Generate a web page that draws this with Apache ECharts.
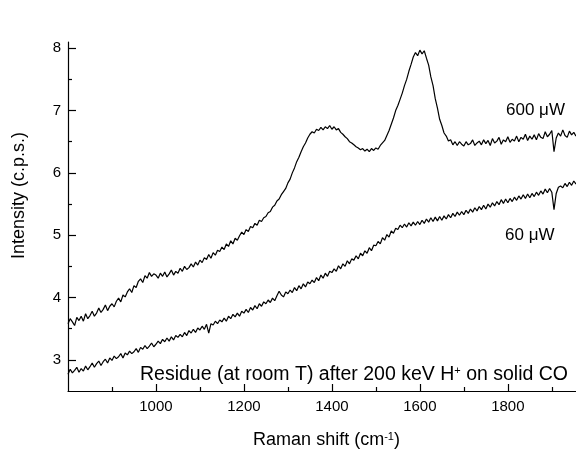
<!DOCTYPE html>
<html>
<head>
<meta charset="utf-8">
<script src="https://cdn.jsdelivr.net/npm/echarts@6/dist/echarts.min.js"></script>
<style>html,body{margin:0;padding:0;background:#fff}#c{width:576px;height:454px}</style>
</head>
<body>
<div id="c"></div>
<script>
var xStart = 800, xStep = 5;
var xMajorTicks = [1000, 1200, 1400, 1600, 1800];
var xMinorTicks = [900, 1100, 1300, 1500, 1700, 1900];
var yMajorTicks = [3, 4, 5, 6, 7, 8];
var yMinorTicks = [3.5, 4.5, 5.5, 6.5, 7.5];
var seriesNames = ['600 μW', '60 μW'];
var i600 = [
3.58,3.66,3.61,3.55,3.68,3.63,3.70,3.62,3.74,3.66,
3.71,3.78,3.70,3.75,3.83,3.76,3.81,3.88,3.79,3.86,
3.90,3.85,3.94,3.99,3.93,4.04,4.01,4.09,4.14,4.08,
4.19,4.16,4.26,4.30,4.24,4.35,4.31,4.40,4.34,4.38,
4.36,4.31,4.39,4.34,4.41,4.33,4.38,4.44,4.36,4.42,
4.39,4.47,4.42,4.50,4.45,4.48,4.54,4.49,4.57,4.52,
4.60,4.56,4.64,4.61,4.69,4.63,4.72,4.68,4.76,4.74,
4.81,4.77,4.86,4.82,4.91,4.86,4.95,4.92,4.99,5.05,
5.01,5.09,5.06,5.14,5.12,5.19,5.16,5.24,5.22,5.28,
5.30,5.36,5.38,5.45,5.48,5.55,5.58,5.65,5.70,5.75,
5.84,5.90,6.00,6.08,6.18,6.25,6.34,6.42,6.48,6.56,
6.62,6.66,6.64,6.70,6.68,6.73,6.69,6.74,6.71,6.76,
6.70,6.74,6.69,6.71,6.65,6.62,6.58,6.55,6.50,6.48,
6.45,6.42,6.40,6.37,6.39,6.35,6.38,6.34,6.39,6.36,
6.40,6.38,6.44,6.48,6.52,6.60,6.68,6.78,6.88,7.00,
7.08,7.18,7.28,7.40,7.50,7.63,7.74,7.86,7.93,7.88,
7.97,7.91,7.96,7.84,7.73,7.54,7.40,7.19,7.04,6.86,
6.76,6.64,6.59,6.51,6.53,6.45,6.50,6.44,6.50,6.46,
6.43,6.50,6.45,6.47,6.53,6.44,6.48,6.51,6.45,6.53,
6.47,6.52,6.44,6.55,6.48,6.51,6.57,6.46,6.53,6.50,
6.58,6.49,6.54,6.51,6.59,6.50,6.57,6.54,6.62,6.52,
6.59,6.54,6.61,6.53,6.63,6.57,6.55,6.66,6.58,6.62,
6.68,6.34,6.56,6.64,6.59,6.69,6.60,6.57,6.67,6.61,
6.65,6.59
];
var i60 = [
2.77,2.85,2.79,2.83,2.88,2.80,2.86,2.82,2.90,2.84,
2.89,2.95,2.88,2.94,2.98,2.91,2.97,3.01,2.95,3.03,
2.99,3.06,3.02,3.05,3.10,3.03,3.11,3.08,3.14,3.10,
3.13,3.18,3.12,3.20,3.17,3.23,3.18,3.22,3.27,3.21,
3.25,3.30,3.26,3.33,3.29,3.35,3.30,3.37,3.32,3.39,
3.36,3.41,3.37,3.44,3.39,3.47,3.43,3.49,3.44,3.51,
3.48,3.54,3.49,3.57,3.43,3.58,3.56,3.62,3.58,3.64,
3.61,3.67,3.62,3.70,3.66,3.73,3.69,3.75,3.70,3.78,
3.75,3.81,3.76,3.84,3.80,3.87,3.82,3.90,3.86,3.93,
3.90,3.96,3.92,3.99,3.95,4.03,4.10,4.04,4.01,4.09,
4.06,4.12,4.08,4.16,4.11,4.19,4.14,4.22,4.17,4.25,
4.22,4.28,4.24,4.32,4.27,4.36,4.31,4.39,4.34,4.42,
4.40,4.46,4.42,4.51,4.46,4.54,4.50,4.59,4.54,4.62,
4.60,4.67,4.62,4.71,4.67,4.75,4.71,4.80,4.75,4.84,
4.83,4.90,4.86,4.96,4.92,5.01,4.97,5.07,5.03,5.11,
5.09,5.16,5.12,5.18,5.13,5.20,5.15,5.21,5.16,5.22,
5.17,5.24,5.19,5.26,5.21,5.28,5.22,5.29,5.23,5.30,
5.24,5.31,5.26,5.33,5.28,5.35,5.30,5.37,5.32,5.38,
5.33,5.40,5.35,5.42,5.37,5.44,5.39,5.46,5.41,5.48,
5.42,5.50,5.45,5.52,5.47,5.54,5.49,5.57,5.51,5.58,
5.52,5.59,5.54,5.61,5.56,5.63,5.58,5.65,5.59,5.66,
5.60,5.67,5.62,5.69,5.64,5.71,5.66,5.74,5.68,5.75,
5.69,5.41,5.67,5.77,5.79,5.76,5.83,5.78,5.85,5.80,
5.87,5.82
];

function pairs(arr) {
  return arr.map(function (v, k) { return [xStart + xStep * k, v]; });
}
function plain(v) { return String(v); }

var FONT = '"Liberation Sans", Arial, sans-serif';
var chart = echarts.init(document.getElementById('c'), null, {renderer: 'canvas'});
var axisLineStyle = {color: '#000', width: 1.2};

chart.setOption({
  animation: false,
  backgroundColor: '#fff',
  grid: {left: 68, right: 0, top: 42, bottom: 57, containLabel: false},
  xAxis: [{
    type: 'value', min: 800, max: 1955, gridIndex: 0, position: 'bottom',
    axisLine: {show: true, onZero: false, lineStyle: axisLineStyle},
    axisTick: {show: true, inside: true, length: 7, customValues: xMajorTicks, lineStyle: axisLineStyle},
    axisLabel: {customValues: xMajorTicks, formatter: plain, color: '#000', fontSize: 15, fontFamily: FONT, margin: 8},
    splitLine: {show: false},
    name: '{a|Raman shift (cm}{s|-1}{a|)}',
    nameLocation: 'middle', nameGap: 40,
    nameTextStyle: {padding: [0, 0, 0, 9], rich: {
      a: {fontSize: 18, fontFamily: FONT, color: '#000'},
      s: {fontSize: 11, fontFamily: FONT, color: '#000', verticalAlign: 'top'}
    }}
  }, {
    type: 'value', min: 800, max: 1955, gridIndex: 0, position: 'bottom',
    axisLine: {show: false, onZero: false},
    axisTick: {show: true, inside: true, length: 4, customValues: xMinorTicks, lineStyle: axisLineStyle},
    axisLabel: {show: false},
    splitLine: {show: false}
  }],
  yAxis: [{
    type: 'value', min: 2.5, max: 8.1, gridIndex: 0, position: 'left',
    axisLine: {show: true, onZero: false, lineStyle: axisLineStyle},
    axisTick: {show: true, inside: true, length: 8, customValues: yMajorTicks, lineStyle: axisLineStyle},
    axisLabel: {customValues: yMajorTicks, formatter: plain, color: '#000', fontSize: 15, fontFamily: FONT, margin: 7},
    splitLine: {show: false},
    name: 'Intensity (c.p.s.)',
    nameLocation: 'middle', nameGap: 40,
    nameTextStyle: {fontSize: 18, fontFamily: FONT, color: '#000', padding: [0, 0, 0, 42]}
  }, {
    type: 'value', min: 2.5, max: 8.1, gridIndex: 0, position: 'left',
    axisLine: {show: false, onZero: false},
    axisTick: {show: true, inside: true, length: 4, customValues: yMinorTicks, lineStyle: axisLineStyle},
    axisLabel: {show: false},
    splitLine: {show: false}
  }],
  series: [{
    name: seriesNames[0], type: 'line', xAxisIndex: 0, yAxisIndex: 0,
    data: pairs(i600), showSymbol: false, symbol: 'none',
    lineStyle: {color: '#000', width: 1.2}, silent: true
  }, {
    name: seriesNames[1], type: 'line', xAxisIndex: 0, yAxisIndex: 0,
    data: pairs(i60), showSymbol: false, symbol: 'none',
    lineStyle: {color: '#000', width: 1.2}, silent: true
  }],
  graphic: [{
    type: 'text', left: 506, top: 102,
    style: {text: seriesNames[0], fontSize: 17, fontFamily: FONT, fill: '#000'}
  }, {
    type: 'text', left: 505, top: 227,
    style: {text: seriesNames[1], fontSize: 17, fontFamily: FONT, fill: '#000'}
  }, {
    type: 'text', left: 140, top: 365,
    style: {
      text: '{a|Residue (at room T) after 200 keV H}{s|+}{a| on solid CO}',
      rich: {
        a: {fontSize: 19.5, fontFamily: FONT, fill: '#000'},
        s: {fontSize: 11, fontFamily: FONT, fill: '#000', verticalAlign: 'top'}
      }
    }
  }]
});
</script>
</body>
</html>
